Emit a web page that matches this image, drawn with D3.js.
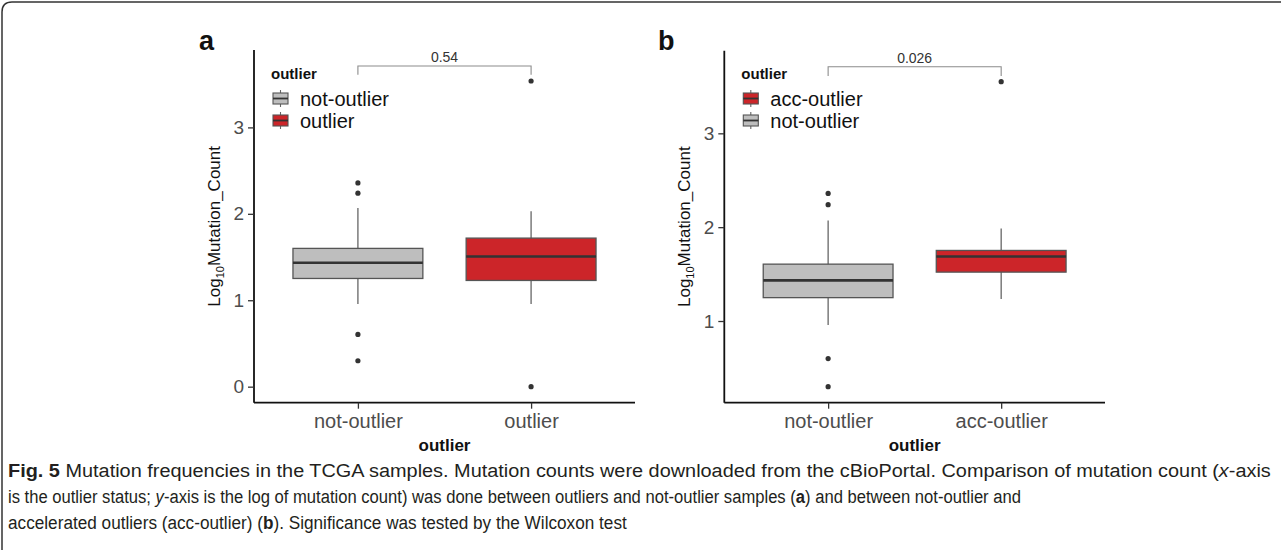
<!DOCTYPE html>
<html>
<head>
<meta charset="utf-8">
<script src="https://cdn.jsdelivr.net/npm/d3@7"></script>
<style>
  body { margin: 0; background: #fff; }
  svg { display: block; }
</style>
</head>
<body>
<svg width="1281" height="550"></svg>
<script>
// categories on the x axis, per panel
var catsA = ['not-outlier', 'outlier'];
var catsB = ['not-outlier', 'acc-outlier'];
// legend order, per panel
var legendA = ['not-outlier', 'outlier'];
var legendB = ['acc-outlier', 'not-outlier'];
// box stats: [lower whisker, q1, median, q3, upper whisker]
var statsA = [[0.956, 1.252, 1.433, 1.600, 2.066], [0.956, 1.229, 1.506, 1.719, 2.031]];
var statsB = [[0.957, 1.249, 1.433, 1.606, 2.070], [1.234, 1.521, 1.688, 1.752, 1.986]];
// outlying points
var outliersA = [[0.30, 0.605, 2.239, 2.358], [0.0, 3.537]];
var outliersB = [[0.30, 0.60, 2.24, 2.36], [3.55]];
var pValues = ['0.54', '0.026'];
var bracketY = 3.71;
var yTicksA = [0, 1, 2, 3];
var yTicksB = [1, 2, 3];

var fillColor = { 'not-outlier': '#bebebe', 'outlier': '#cc2529', 'acc-outlier': '#cc2529' };

var svg = d3.select('svg');
var font = '"Liberation Sans", Arial, Helvetica, sans-serif';

// frame of the figure box (left and top edges only are visible)
svg.append('path')
    .attr('d', 'M2,550 L2,12 Q2,2 12,2 L1281,2')
    .attr('fill', 'none')
    .attr('stroke', '#333')
    .attr('stroke-width', 1.5);

function drawPanel(p) {
  var g = svg.append('g');

  var allVals = [bracketY];
  p.stats.forEach(function(s) { allVals = allVals.concat(s); });
  p.outliers.forEach(function(o) { allVals = allVals.concat(o); });
  var ext = d3.extent(allVals);
  var pad = (ext[1] - ext[0]) * 0.05;

  var y = d3.scaleLinear()
      .domain([ext[0] - pad, ext[1] + pad])
      .range([p.bottom, p.top]);

  var x = d3.scalePoint()
      .domain(p.cats)
      .range([p.left, p.right])
      .padding(0.6);

  var bw = x.step() * 0.75;

  // boxes
  var box = g.selectAll('.box')
    .data(p.cats)
    .enter().append('g')
      .attr('class', 'box');

  box.append('line')
      .attr('x1', function(d) { return x(d); })
      .attr('x2', function(d) { return x(d); })
      .attr('y1', function(d, i) { return y(p.stats[i][0]); })
      .attr('y2', function(d, i) { return y(p.stats[i][4]); })
      .attr('stroke', '#666')
      .attr('stroke-width', 1.3);

  box.append('rect')
      .attr('x', function(d) { return x(d) - bw / 2; })
      .attr('width', bw)
      .attr('y', function(d, i) { return y(p.stats[i][3]); })
      .attr('height', function(d, i) { return y(p.stats[i][1]) - y(p.stats[i][3]); })
      .attr('fill', function(d) { return fillColor[d]; })
      .attr('stroke', '#555')
      .attr('stroke-width', 1.3);

  box.append('line')
      .attr('x1', function(d) { return x(d) - bw / 2; })
      .attr('x2', function(d) { return x(d) + bw / 2; })
      .attr('y1', function(d, i) { return y(p.stats[i][2]); })
      .attr('y2', function(d, i) { return y(p.stats[i][2]); })
      .attr('stroke', '#333')
      .attr('stroke-width', 2.6);

  box.selectAll('circle')
    .data(function(d, i) { return p.outliers[i].map(function(v) { return [d, v]; }); })
    .enter().append('circle')
      .attr('cx', function(d) { return x(d[0]); })
      .attr('cy', function(d) { return y(d[1]); })
      .attr('r', 2.6)
      .attr('fill', '#333');

  // axes
  var yAxis = g.append('g')
      .attr('transform', 'translate(' + p.left + ',0)')
      .call(d3.axisLeft(y).tickValues(p.yTicks).tickSize(6).tickPadding(4).tickFormat(d3.format('d')));
  var xAxis = g.append('g')
      .attr('transform', 'translate(0,' + p.bottom + ')')
      .call(d3.axisBottom(x).tickSize(6).tickPadding(5));

  [yAxis, xAxis].forEach(function(a) {
    a.select('.domain').attr('stroke', '#111').attr('stroke-width', 1.8);
    a.selectAll('.tick line').attr('stroke', '#333').attr('stroke-width', 1.3);
    a.selectAll('.tick text').attr('fill', '#4d4d4d').style('font-family', font);
  });
  // ggplot style axis lines without end ticks
  yAxis.select('.domain').attr('d', 'M0,' + p.bottom + 'V' + p.top);
  xAxis.select('.domain').attr('d', 'M' + p.left + ',0H' + p.right);
  yAxis.selectAll('.tick text').style('font-size', '19px');
  xAxis.selectAll('.tick text').style('font-size', '20px');

  // axis titles
  var yt = g.append('text')
      .attr('transform', 'translate(' + (p.left - 34) + ',' + ((p.top + p.bottom) / 2) + ') rotate(-90)')
      .attr('text-anchor', 'middle')
      .style('font-family', font)
      .style('font-size', '17px')
      .attr('fill', '#111');
  yt.append('tspan').text('Log');
  yt.append('tspan').text('10').style('font-size', '11px').attr('dy', 4);
  yt.append('tspan').text('Mutation_Count').attr('dy', -4);

  g.append('text')
      .attr('x', (p.left + p.right) / 2)
      .attr('y', 451)
      .attr('text-anchor', 'middle')
      .style('font-family', font)
      .style('font-size', '17px')
      .style('font-weight', 'bold')
      .attr('fill', '#111')
      .text('outlier');

  // panel letter
  g.append('text')
      .attr('x', p.labelX)
      .attr('y', 50)
      .style('font-family', font)
      .style('font-size', '27px')
      .style('font-weight', 'bold')
      .attr('fill', '#111')
      .text(p.label);

  // significance bracket
  var bx1 = x(p.cats[0]), bx2 = x(p.cats[1]);
  g.append('path')
      .attr('d', 'M' + bx1 + ',' + y(bracketY - 0.1) + 'V' + y(bracketY) + 'H' + bx2 + 'V' + y(bracketY - 0.1))
      .attr('fill', 'none')
      .attr('stroke', '#8c8c8c')
      .attr('stroke-width', 1.1);
  g.append('text')
      .attr('x', (bx1 + bx2) / 2)
      .attr('y', y(bracketY) - 4)
      .attr('text-anchor', 'middle')
      .style('font-family', font)
      .style('font-size', '14px')
      .attr('fill', '#333')
      .text(p.pValue);

  // legend
  var lg = g.append('g').attr('transform', 'translate(' + (p.left + 17) + ',0)');
  lg.append('text')
      .attr('x', 0)
      .attr('y', 79)
      .style('font-family', font)
      .style('font-size', '15px')
      .style('font-weight', 'bold')
      .attr('fill', '#111')
      .text('outlier');

  var item = lg.selectAll('.item')
    .data(p.legend)
    .enter().append('g')
      .attr('class', 'item')
      .attr('transform', function(d, i) { return 'translate(0,' + (98.5 + i * 22) + ')'; });
  item.append('line')
      .attr('x1', 9.5).attr('x2', 9.5)
      .attr('y1', -8.5).attr('y2', 8.5)
      .attr('stroke', '#666').attr('stroke-width', 1.1);
  item.append('rect')
      .attr('x', 2).attr('y', -5.5)
      .attr('width', 15).attr('height', 11)
      .attr('fill', function(d) { return fillColor[d]; })
      .attr('stroke', '#555').attr('stroke-width', 1.1);
  item.append('line')
      .attr('x1', 2).attr('x2', 17)
      .attr('y1', 0).attr('y2', 0)
      .attr('stroke', '#333').attr('stroke-width', 1.8);
  item.append('text')
      .attr('x', 29)
      .attr('y', 7)
      .style('font-family', font)
      .style('font-size', '20px')
      .attr('fill', '#111')
      .text(function(d) { return d; });
}

drawPanel({ label: 'a', labelX: 199, cats: catsA, legend: legendA, stats: statsA, outliers: outliersA,
            pValue: pValues[0], yTicks: yTicksA, left: 254, right: 635, top: 50, bottom: 402.7 });
drawPanel({ label: 'b', labelX: 658, cats: catsB, legend: legendB, stats: statsB, outliers: outliersB,
            pValue: pValues[1], yTicks: yTicksB, left: 724.3, right: 1105, top: 50.7, bottom: 402.7 });

// caption, a condensed face is faked by squeezing each line horizontally
var captionLines = [
  [['Fig. 5', true], [' Mutation frequencies in the TCGA samples. Mutation counts were downloaded from the cBioPortal. Comparison of mutation count (', false], ['x', false, true], ['-axis', false]],
  [['is the outlier status; ', false], ['y', false, true], ['-axis is the log of mutation count) was done between outliers and not-outlier samples (', false], ['a', true], [') and between not-outlier and', false]],
  [['accelerated outliers (acc-outlier) (', false], ['b', true], ['). Significance was tested by the Wilcoxon test', false]]
];
var captionWidths = [1264, 1014, 619];

captionLines.forEach(function(line, i) {
  var t = svg.append('text')
      .attr('x', 0)
      .attr('y', 0)
      .style('font-family', font)
      .style('font-size', '19px')
      .attr('fill', '#231f20');
  line.forEach(function(seg) {
    t.append('tspan')
        .text(seg[0])
        .style('font-weight', seg[1] ? 'bold' : 'normal')
        .style('font-style', seg[2] ? 'italic' : 'normal');
  });
  var w = t.node().getComputedTextLength();
  var sx = captionWidths[i] / w;
  t.attr('transform', 'translate(8,' + (477 + i * 26) + ') scale(' + sx + ',1)');
});
</script>
</body>
</html>
